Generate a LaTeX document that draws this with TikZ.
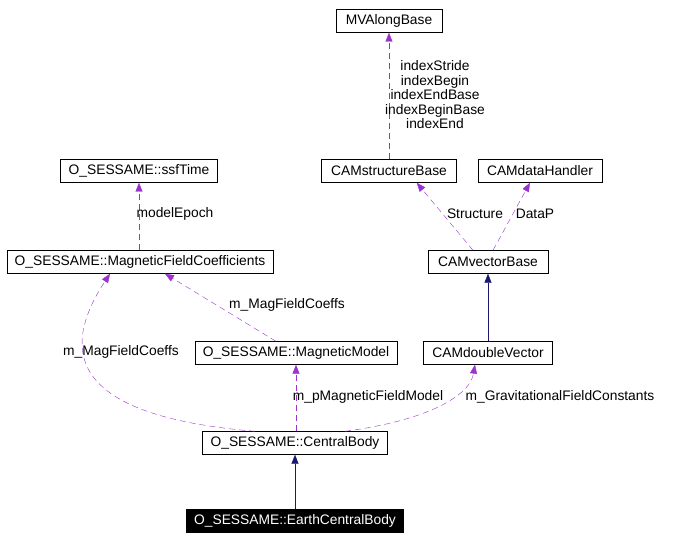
\documentclass[tikz,border=0pt]{standalone}
\usepackage{fontspec}
\setmainfont{Liberation Sans}
\usetikzlibrary{arrows.meta}
\definecolor{edgepurple}{RGB}{153,51,204}
\definecolor{edgenavy}{RGB}{25,25,112}
\begin{document}
\begin{tikzpicture}[x=1pt,y=-1pt,
	cls/.style={draw=black,fill=white,minimum height=23pt,inner xsep=4pt,font=\fontsize{13.8}{14.5}\selectfont},
	cur/.style={cls,fill=black,text=white},
	use/.style={draw=edgepurple,dashed,dash pattern=on 6pt off 4pt,-{Triangle[fill=edgepurple,length=9pt,width=7pt]}},
	inh/.style={draw=edgenavy,-{Triangle[fill=edgenavy,length=9pt,width=7pt]}},
	lbl/.style={font=\fontsize{13.8}{14.5}\selectfont,inner sep=1pt,align=center}]
	\useasboundingbox (0,0) rectangle (677,540);
	% classes
	\node[cls,minimum width=106pt] (mva) at (389,21) {MVAlongBase};
	\node[cls,minimum width=135pt] (sb) at (389,171) {CAMstructureBase};
	\node[cls,minimum width=124pt] (dh) at (540,171) {CAMdataHandler};
	\node[cls,minimum width=157pt] (st) at (139,171) {O\_SESSAME::ssfTime};
	\node[cls,minimum width=266pt] (mfc) at (140,262) {O\_SESSAME::MagneticFieldCoefficients};
	\node[cls,minimum width=120pt] (vb) at (488,262) {CAMvectorBase};
	\node[cls,minimum width=202pt] (mm) at (296,353) {O\_SESSAME::MagneticModel};
	\node[cls,minimum width=129pt] (dv) at (488,353) {CAMdoubleVector};
	\node[cls,minimum width=185pt] (cb) at (295,443) {O\_SESSAME::CentralBody};
	\node[cur,minimum width=217pt] (ecb) at (295,521) {O\_SESSAME::EarthCentralBody};
	% inheritance
	\draw[inh] (ecb) -- (cb);
	\draw[inh] (dv) -- (vb);
	% usage
	\draw[use] (sb) -- (mva);
	\node[lbl] at (435,95) {indexStride\\indexBegin\\indexEndBase\\indexBeginBase\\indexEnd};
	\draw[use] (mfc.north -| st) -- (st);
	\node[lbl] at (175,214) {modelEpoch};
	\draw[use] ([xshift=-15pt]vb.north) -- ([xshift=-40pt]sb.south east);
	\node[lbl] at (475,214) {Structure};
	\draw[use] ([xshift=5pt]vb.north) -- ([xshift=-10pt]dh.south);
	\node[lbl] at (535,214) {DataP};
	\draw[use] ([xshift=-20pt]mm.north) -- ([xshift=25pt]mfc.south);
	\node[lbl] at (287,305) {m\_MagFieldCoeffs};
	\draw[use] ([xshift=-40pt]cb.north) .. controls (120,420) and (40,380) .. ([xshift=-30pt]mfc.south);
	\node[lbl] at (121,352) {m\_MagFieldCoeffs};
	\draw[use] (cb.north -| mm) -- (mm);
	\node[lbl] at (368,397) {m\_pMagneticFieldModel};
	\draw[use] ([xshift=50pt]cb.north) .. controls (430,420) and (470,395) .. (dv.south -| 475,0);
	\node[lbl] at (560,397) {m\_GravitationalFieldConstants};
\end{tikzpicture}
\end{document}
